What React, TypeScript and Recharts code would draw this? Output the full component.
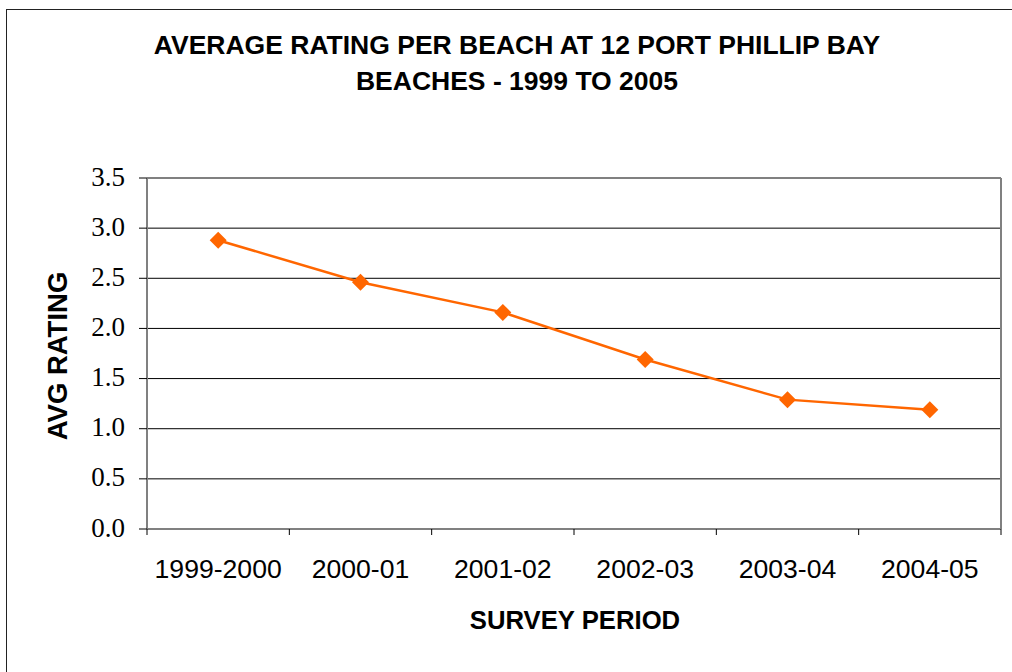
import React from 'react';
import {
  LineChart,
  Line,
  XAxis,
  YAxis,
  CartesianGrid,
  ReferenceLine,
} from 'recharts';

const periods = ['1999-2000', '2000-01', '2001-02', '2002-03', '2003-04', '2004-05'];
const ratings = [2.88, 2.46, 2.16, 1.69, 1.29, 1.19];
const yTicks = [0, 0.5, 1, 1.5, 2, 2.5, 3, 3.5];
const xTicks = [0, 1, 2, 3, 4, 5, 6];

const W = 1012;
const H = 672;
const margin = { top: 178, right: 11, bottom: 0, left: 0 };
const yAxisWidth = 147;
const xAxisHeight = 143;
const plotWidth = W - margin.left - margin.right - yAxisWidth;
const step = plotWidth / periods.length;

const data = periods.map((p, i) => ({ period: p, x: i + 0.5, rating: ratings[i] }));

const sans = '"Liberation Sans", Arial, sans-serif';
const serif = '"Liberation Serif", "Times New Roman", serif';

// etiqueta centrada entre dos marcas, como en Excel
const PeriodTick = (props: any) => {
  const { x, y, payload } = props;
  const label = periods[payload.value];
  if (!label) return null;
  return (
    <text
      x={x + step / 2}
      y={y}
      dy={41}
      textAnchor="middle"
      fontFamily={sans}
      fontSize={26.6}
      fill="#000"
    >
      {label}
    </text>
  );
};

const Diamond = (props: any) => {
  const { cx, cy } = props;
  if (cx == null || cy == null) return null;
  const r = 8.5;
  return (
    <polygon
      points={`${cx},${cy - r} ${cx + r},${cy} ${cx},${cy + r} ${cx - r},${cy}`}
      fill="#FF6600"
    />
  );
};

export default function App() {
  return (
    <div
      style={{
        position: 'fixed',
        left: 0,
        top: 0,
        width: W,
        height: H,
        overflow: 'hidden',
        background: '#fff',
      }}
    >
      <div
        style={{
          position: 'absolute',
          left: 6,
          top: 9,
          width: 1200,
          height: 900,
          border: '1.5px solid #222',
        }}
      />
      <div
        style={{
          position: 'absolute',
          left: 0,
          top: 27,
          width: 1034,
          textAlign: 'center',
          fontFamily: sans,
          fontWeight: 'bold',
          fontSize: 26.5,
          lineHeight: '36px',
          color: '#000',
        }}
      >
        AVERAGE RATING PER BEACH AT 12 PORT PHILLIP BAY
        <br />
        BEACHES - 1999 TO 2005
      </div>
      <div
        style={{
          position: 'absolute',
          left: 58,
          top: 356,
          transform: 'translate(-50%, -50%) rotate(-90deg)',
          whiteSpace: 'nowrap',
          fontFamily: sans,
          fontWeight: 'bold',
          fontSize: 27.5,
          color: '#000',
        }}
      >
        AVG RATING
      </div>
      <div
        style={{
          position: 'absolute',
          left: 575,
          top: 620,
          transform: 'translate(-50%, -50%)',
          whiteSpace: 'nowrap',
          fontFamily: sans,
          fontWeight: 'bold',
          fontSize: 25.7,
          color: '#000',
        }}
      >
        SURVEY PERIOD
      </div>
      <div style={{ position: 'absolute', left: 0, top: 0 }}>
        <LineChart width={W} height={H} data={data} margin={margin}>
          <CartesianGrid vertical={false} stroke="#000" strokeWidth={1} />
          <XAxis
            dataKey="x"
            type="number"
            domain={[0, 6]}
            ticks={xTicks}
            interval={0}
            height={xAxisHeight}
            tick={<PeriodTick />}
            tickSize={6}
            axisLine={{ stroke: '#808080', strokeWidth: 2 }}
            tickLine={{ stroke: '#000', strokeWidth: 1 }}
          />
          <YAxis
            type="number"
            domain={[0, 3.5]}
            ticks={yTicks}
            interval={0}
            width={yAxisWidth}
            tickFormatter={(v: number) => v.toFixed(1)}
            tickSize={8}
            tickMargin={14}
            tick={{ fontFamily: serif, fontSize: 27, fill: '#000', dy: -2 }}
            axisLine={{ stroke: '#808080', strokeWidth: 2 }}
            tickLine={{ stroke: '#000', strokeWidth: 1 }}
          />
          <ReferenceLine y={3.5} stroke="#808080" strokeWidth={2} />
          <ReferenceLine x={6} stroke="#808080" strokeWidth={2} />
          <Line
            dataKey="rating"
            stroke="#FF6600"
            strokeWidth={2.5}
            dot={<Diamond />}
            activeDot={false}
            isAnimationActive={false}
          />
        </LineChart>
      </div>
    </div>
  );
}
